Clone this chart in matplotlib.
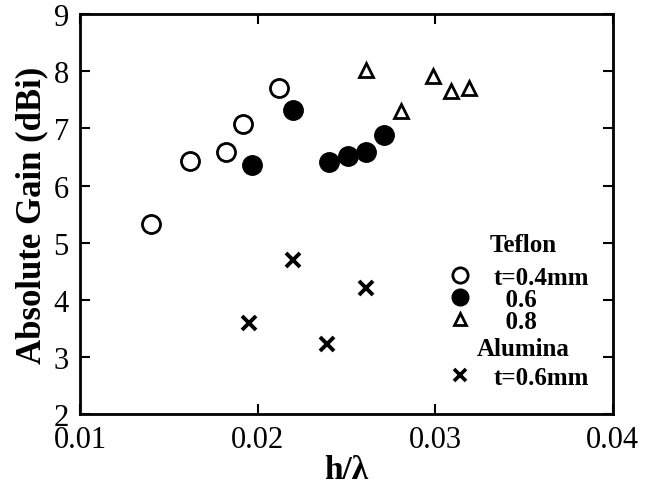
import matplotlib
matplotlib.use("Agg")
import matplotlib.pyplot as plt
from matplotlib.lines import Line2D

plt.rcParams["font.family"] = ["Liberation Serif", "DejaVu Serif"]

# Teflon, t=0.4mm
teflon04_x = [0.0140, 0.0162, 0.0182, 0.0192, 0.0212]
teflon04_y = [5.32, 6.43, 6.58, 7.08, 7.70]
# Teflon, t=0.6mm
teflon06_x = [0.0197, 0.0220, 0.0240, 0.0251, 0.0261, 0.0271]
teflon06_y = [6.36, 7.32, 6.42, 6.51, 6.58, 6.88]
# Teflon, t=0.8mm
teflon08_x = [0.0261, 0.0281, 0.0299, 0.0309, 0.0319]
teflon08_y = [8.02, 7.30, 7.91, 7.66, 7.70]
# Alumina, t=0.6mm
alumina_x = [0.0195, 0.0220, 0.0239, 0.0261]
alumina_y = [3.60, 4.69, 3.23, 4.20]

xticks = [0.01, 0.02, 0.03, 0.04]
xtick_labels = ["0.01", "0.02", "0.03", "0.04"]
yticks = [2, 3, 4, 5, 6, 7, 8, 9]

fig = plt.figure(figsize=(6.45, 4.85), dpi=100)
ax = fig.add_axes([0.124, 0.144, 0.826, 0.825])

ax.plot(teflon04_x, teflon04_y, linestyle="none", marker="o", markersize=13,
        markerfacecolor="white", markeredgecolor="black", markeredgewidth=2.0)
ax.plot(teflon06_x, teflon06_y, linestyle="none", marker="o", markersize=14,
        markerfacecolor="black", markeredgecolor="black")
ax.plot(teflon08_x, teflon08_y, linestyle="none", marker="^", markersize=10,
        markerfacecolor="white", markeredgecolor="black", markeredgewidth=2.0)
ax.plot(alumina_x, alumina_y, linestyle="none", marker="x", markersize=10,
        color="black", markeredgewidth=2.8)

ax.set_xlim(0.01, 0.04)
ax.set_ylim(2, 9)
ax.set_xticks(xticks)
ax.set_xticklabels(xtick_labels)
ax.set_yticks(yticks)

ax.tick_params(direction="in", length=7, width=1.5, labelsize=22, pad=8,
               top=True, right=True)
for spine in ax.spines.values():
    spine.set_linewidth(2.0)

ax.set_xlabel("h/λ", fontsize=24, fontweight="bold", labelpad=0)
ax.set_ylabel("Absolute Gain (dBi)", fontsize=25, fontweight="bold", labelpad=4)

# legends (group titles as plain text, entries as two legends)
teflon_handles = [
    Line2D([], [], linestyle="none", marker="o", markersize=11,
           markerfacecolor="white", markeredgecolor="black", markeredgewidth=2.0),
    Line2D([], [], linestyle="none", marker="o", markersize=12,
           markerfacecolor="black", markeredgecolor="black"),
    Line2D([], [], linestyle="none", marker="^", markersize=9,
           markerfacecolor="white", markeredgecolor="black", markeredgewidth=2.0),
]
teflon_labels = ["t=0.4mm", "  0.6", "  0.8"]
alumina_handles = [
    Line2D([], [], linestyle="none", marker="x", markersize=9,
           color="black", markeredgewidth=2.6),
]
alumina_labels = ["t=0.6mm"]

leg_font = {"family": ["Liberation Serif"], "weight": "bold", "size": 18}

ax.text(0.831, 0.425, "Teflon", transform=ax.transAxes, ha="center",
        va="center", fontsize=18, fontweight="bold")
ax.text(0.831, 0.165, "Alumina", transform=ax.transAxes, ha="center",
        va="center", fontsize=18, fontweight="bold")

leg1 = ax.legend(teflon_handles, teflon_labels,
                 loc="upper left", bbox_to_anchor=(0.689, 0.37),
                 frameon=False, prop=leg_font,
                 handlelength=1.0, handletextpad=0.85, labelspacing=-0.05,
                 borderpad=0, borderaxespad=0)
ax.add_artist(leg1)
ax.legend(alumina_handles, alumina_labels,
          loc="upper left", bbox_to_anchor=(0.689, 0.12),
          frameon=False, prop=leg_font,
          handlelength=1.0, handletextpad=0.85, labelspacing=0.0,
          borderpad=0, borderaxespad=0)

fig.savefig("out.png", dpi=100)
